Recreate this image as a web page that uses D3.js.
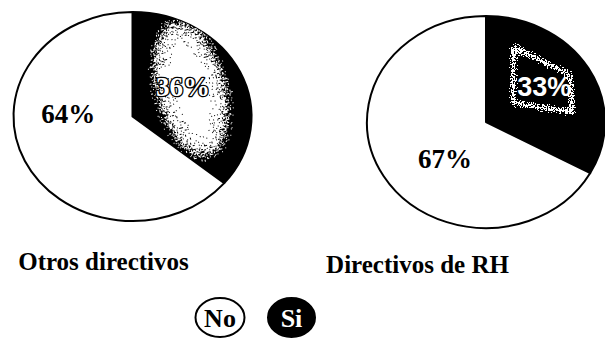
<!DOCTYPE html>
<html>
<head>
<meta charset="utf-8">
<script src="https://cdn.jsdelivr.net/npm/d3@7"></script>
<style>
  html, body { margin: 0; padding: 0; background: #fff; }
  svg { display: block; }
</style>
</head>
<body>
<script>
// Survey answers per group (percent)
const groups = ["Otros directivos", "Directivos de RH"];
const categories = ["Si", "No"];
const siValues = [36, 33];
const noValues = [64, 67];
const legendLabels = ["No", "Si"];

const W = 605, H = 344;
const serif = "'Liberation Serif', 'Times New Roman', serif";
const sans = "'Liberation Sans', Arial, sans-serif";

const svg = d3.select("body").append("svg")
  .attr("width", W).attr("height", H)
  .attr("viewBox", `0 0 ${W} ${H}`);

const fill = d3.scaleOrdinal().domain(categories).range(["#000", "#fff"]);

// Placement of each pie (ellipse centre and radii), titles and label anchors
const layout = [
  { cx: 132.5, cy: 116.5, rx: 119, ry: 104.5, title: [103.5, 270],
    label: { Si: [0.425, -0.29], No: [-0.54, -0.035] } },
  { cx: 486, cy: 122, rx: 119, ry: 106, title: [417.5, 273],
    label: { Si: [0.49, -0.34], No: [-0.345, 0.34] } }
];

const defs = svg.append("defs");

// Grainy white texture used inside the dark slices
function speckleFilter(id, blur, seed, freq, k3, k4) {
  const f = defs.append("filter").attr("id", id)
    .attr("x", "-50%").attr("y", "-50%").attr("width", "200%").attr("height", "200%")
    .attr("color-interpolation-filters", "sRGB");
  f.append("feGaussianBlur").attr("in", "SourceAlpha").attr("stdDeviation", blur).attr("result", "soft");
  f.append("feTurbulence").attr("type", "fractalNoise").attr("baseFrequency", freq)
    .attr("numOctaves", 2).attr("seed", seed).attr("result", "noise");
  f.append("feColorMatrix").attr("in", "noise").attr("type", "matrix")
    .attr("values", "0 0 0 0 0  0 0 0 0 0  0 0 0 0 0  2.6 0 0 0 -0.8").attr("result", "na");
  f.append("feComposite").attr("in", "soft").attr("in2", "na").attr("operator", "arithmetic")
    .attr("k1", 0).attr("k2", 1).attr("k3", k3).attr("k4", k4).attr("result", "mix");
  const ct = f.append("feComponentTransfer").attr("in", "mix").attr("result", "mask");
  ct.append("feFuncA").attr("type", "discrete").attr("tableValues", "0 1");
  f.append("feFlood").attr("flood-color", "#fff").attr("result", "white");
  f.append("feComposite").attr("in", "white").attr("in2", "mask").attr("operator", "in");
}
speckleFilter("speckleBlob", 9, 7, 0.7, 0.6, -0.5);
speckleFilter("speckleFrame", 2.6, 11, 0.7, 0.75, -0.52);

const pie = d3.pie().sort(null).value(d => d.value);
const arc = d3.arc().innerRadius(0).outerRadius(1);

groups.forEach((g, i) => {
  const L = layout[i];
  const data = [
    { cat: "Si", value: siValues[i] },
    { cat: "No", value: noValues[i] }
  ];
  const arcs = pie(data);
  const pieTf = `translate(${L.cx},${L.cy}) scale(${L.rx},${L.ry})`;

  // clip to the dark slice so the texture stays inside it
  defs.append("clipPath").attr("id", `siClip${i}`)
    .append("path").attr("d", arc(arcs[0])).attr("transform", pieTf);

  const grp = svg.append("g");
  grp.append("g").attr("transform", pieTf)
    .selectAll("path").data(arcs).join("path")
    .attr("d", arc)
    .attr("fill", d => fill(d.data.cat))
    .attr("stroke", "#000")
    .attr("stroke-width", 2)
    .attr("stroke-linejoin", "round")
    .attr("vector-effect", "non-scaling-stroke");

  const tex = grp.append("g").attr("clip-path", `url(#siClip${i})`);
  const pos = c => [L.cx + L.label[c][0] * L.rx, L.cy + L.label[c][1] * L.ry];

  if (i === 0) {
    const [x, y] = pos("Si");
    tex.append("ellipse")
      .attr("cx", x + 8).attr("cy", y + 3).attr("rx", 38).attr("ry", 74)
      .attr("transform", `rotate(-14 ${x + 8} ${y + 3})`)
      .attr("fill", "#fff").attr("filter", "url(#speckleBlob)");
  } else {
    const [x, y] = pos("Si");
    const frame = [[x - 31, y - 39], [x + 26, y - 11], [x + 28, y + 26], [x - 31, y + 17]];
    tex.append("path")
      .attr("d", d3.line()(frame) + "Z")
      .attr("fill", "none").attr("stroke", "#fff").attr("stroke-width", 6)
      .attr("stroke-linejoin", "round")
      .attr("filter", "url(#speckleFrame)");
  }

  // percentage labels
  arcs.forEach(a => {
    const c = a.data.cat;
    const [x, y] = pos(c);
    const t = grp.append("text")
      .attr("x", x).attr("y", y).attr("dy", "0.36em")
      .attr("text-anchor", "middle")
      .attr("font-weight", "bold")
      .text(`${a.data.value}%`);
    if (c === "No") {
      t.attr("font-family", serif).attr("font-size", 27).attr("fill", "#000");
    } else if (i === 0) {
      t.attr("font-family", serif).attr("font-size", 27).attr("fill", "#fff")
        .attr("stroke", "#000").attr("stroke-width", 2.6)
        .attr("paint-order", "stroke").attr("stroke-linejoin", "round");
    } else {
      t.attr("font-family", sans).attr("font-size", 27).attr("fill", "#fff");
    }
  });

  // group title
  svg.append("text")
    .attr("x", L.title[0]).attr("y", L.title[1])
    .attr("text-anchor", "middle")
    .attr("font-family", serif).attr("font-weight", "bold").attr("font-size", 25)
    .attr("fill", "#000")
    .text(g);
});

// Legend
const legendX = d3.scalePoint().domain(legendLabels).range([220, 291.5]);
const legend = svg.append("g").selectAll("g").data(legendLabels).join("g")
  .attr("transform", d => `translate(${legendX(d)},317.5)`);
legend.append("ellipse")
  .attr("rx", d => d === "No" ? 24.5 : 23.5).attr("ry", 19.5)
  .attr("fill", d => fill(d))
  .attr("stroke", "#000").attr("stroke-width", 2);
legend.append("text")
  .attr("dy", "0.35em").attr("text-anchor", "middle")
  .attr("font-family", serif).attr("font-weight", "bold").attr("font-size", 26)
  .attr("fill", d => d === "Si" ? "#fff" : "#000")
  .text(d => d);
</script>
</body>
</html>
